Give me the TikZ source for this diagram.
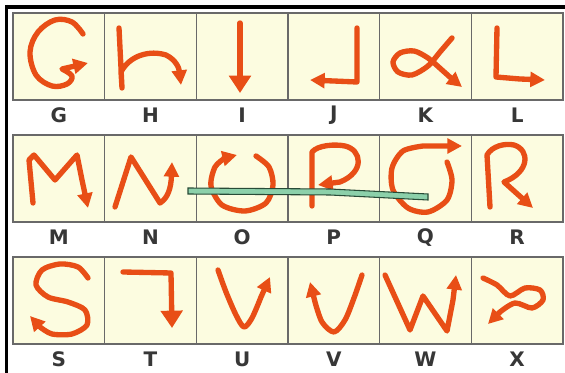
\documentclass[tikz,border=0pt]{standalone}
\usepackage{fontspec}
\newfontfamily\labfont{DejaVu Sans}
\usetikzlibrary{arrows.meta}
\definecolor{penred}{RGB}{232,78,22}
\definecolor{cellyellow}{RGB}{252,252,224}
\definecolor{cellgray}{RGB}{105,105,105}
\definecolor{labgray}{RGB}{55,55,55}
\definecolor{barfill}{RGB}{140,208,170}
\definecolor{bardark}{RGB}{40,75,55}
\tikzset{
  cell/.style={draw=cellgray, fill=cellyellow, line width=1.1pt, minimum width=68.75pt, minimum height=65.25pt, inner sep=0pt},
  lab/.style={text=labgray, font=\labfont\bfseries\fontsize{15}{15}\selectfont, inner sep=0pt},
  penline/.style={draw=penred, line width=4pt, line cap=round, line join=round},
  penarrow/.style={penline, -{Triangle[length=11pt,width=11pt]}},
  bigtip/.style={-{Triangle[length=13pt,width=16pt]}}
}
\begin{document}
\begin{tikzpicture}[x=0.75pt,y=-0.75pt]
\useasboundingbox (0,0) rectangle (565,373);
\fill[white] (0,0) rectangle (565,373);
\draw[line width=3pt] (5,7) -- (565,7);
\draw[line width=2.25pt] (6.5,5) -- (6.5,373);

\foreach \ch [count=\i from 0] in {G,H,I,J,K,L,M,N,O,P,Q,R,S,T,U,V,W,X} {
  \pgfmathtruncatemacro\col{mod(\i,6)}
  \pgfmathtruncatemacro\row{div(\i,6)}
  \node[cell] (\ch) at ({58.8+91.67*\col},{56.5+122*\row}) {};
  \node[lab] (lab\ch) at ({58.8+91.67*\col},{115.5+122*\row}) {\ch};
}

\draw[penarrow] plot[smooth, tension=0.6] coordinates {(83,34) (72,22) (55,20) (38,32) (30,52) (36,75) (52,86) (67,84) (72,76) (62,69)} -- (88,63);
\draw[penarrow] (119,28) -- (122,88) -- (121,72) .. controls (130,55) and (150,50) .. (166,55) .. controls (176,60) and (179,68) .. (181,85);
\draw[penarrow, bigtip] (240,23) -- (240,93);
\draw[penarrow] (357,28) -- (357,82) -- (310,80);
\draw[penarrow] plot[smooth] coordinates {(452,38) (440,52) (428,66) (412,75) (398,72) (393,62) (400,53) (414,51) (428,58) (442,70) (452,79)} -- (462,87);
\draw[penarrow] (497,28) -- (496,77) -- (520,79) -- (545,80);

\draw[penarrow] (33,203) -- (29,160) -- (34,155) -- (55,180) -- (77,155) -- (82,180) -- (88,208);
\draw[penarrow] (115,207) -- (131,157) -- (160,203) .. controls (168,198) and (171,188) .. (172,162);
\draw[penarrow] plot[smooth] coordinates {(256,156) (269,167) (273,185) (266,203) (245,211) (222,205) (211,186) (215,167) (225,158)} -- (237,155);
\draw[penarrow] (312,206) -- (312,152) .. controls (318,145) and (335,144) .. (345,146) .. controls (362,150) and (365,172) .. (340,182) -- (318,185);
\draw[penarrow] plot[smooth] coordinates {(447,162) (452,180) (447,200) (428,212) (408,208) (393,190) (392,168) (403,151) (423,146)} -- (462,146);
\draw[penarrow] (490,207) -- (487,155) .. controls (492,146) and (505,143) .. (514,145) .. controls (530,150) and (530,172) .. (504,182) -- (533,208);

\draw[penarrow] plot[smooth] coordinates {(88,278) (78,267) (60,264) (42,270) (36,285) (48,297) (68,302) (85,310) (87,325) (72,334) (52,334) (40,327)} -- (30,316);
\draw[penarrow, bigtip] (123,272) -- (171,273) -- (172,328);
\draw[penarrow] plot[smooth] coordinates {(218,270) (226,292) (236,315) (244,327) (252,318) (261,297)} -- (270,277);
\draw[penarrow] plot[smooth] coordinates {(362,275) (354,298) (345,320) (334,332) (322,322) (315,302)} -- (310,282);
\draw[penarrow] (385,275) -- (410,330) -- (423,296) -- (447,331) -- (453,300) -- (456,275);
\draw[penarrow] plot[smooth] coordinates {(483,278) (497,285) (510,296) (525,288) (540,290) (543,300) (532,308) (515,303) (500,312)} -- (488,324);

\filldraw[fill=barfill, draw=bardark, line width=0.8pt] (188,188) -- (330,189) -- (428,194) -- (428,200) -- (330,195) -- (188,194) -- cycle;
\end{tikzpicture}
\end{document}
